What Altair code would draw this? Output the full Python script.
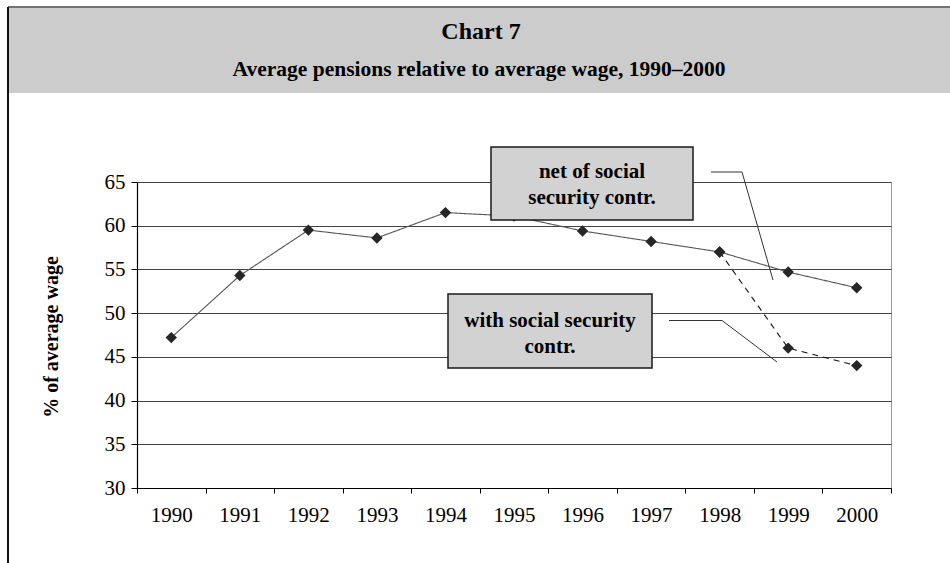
import altair as alt
import pandas as pd

# Average pension as % of average wage
years = [str(y) for y in range(1990, 2001)]
net_contr = [47.2, 54.3, 59.5, 58.6, 61.5, 61.1, 59.4, 58.2, 57.0, 54.7, 52.9]
with_years = ["1998", "1999", "2000"]
with_contr = [57.0, 46.0, 44.0]

series_names = ["net of social security contr.", "with social security contr."]
y_ticks = [30, 35, 40, 45, 50, 55, 60, 65]

rows = [{"year": y, "value": v, "series": series_names[0]} for y, v in zip(years, net_contr)]
rows += [{"year": y, "value": v, "series": series_names[1]} for y, v in zip(with_years, with_contr)]
df = pd.DataFrame(rows)

W, H = 754, 306
SERIF = "Liberation Serif"

x_enc = alt.X(
    "year:O",
    sort=years,
    scale=alt.Scale(type="band", domain=years, paddingInner=0, paddingOuter=0),
    axis=alt.Axis(title=None, labelAngle=0, tickBand="extent", grid=False,
                  tickSize=5, labelPadding=11),
)
y_enc = alt.Y(
    "value:Q",
    scale=alt.Scale(domain=[30, 65], nice=False, zero=False),
    axis=alt.Axis(title=None, values=y_ticks, grid=True, tickSize=6, labelPadding=6),
)

base = alt.Chart(df).encode(x=x_enc, y=y_enc)

lines = base.mark_line(strokeWidth=1.1).encode(
    color=alt.Color("series:N", scale=alt.Scale(domain=series_names, range=["#555555", "#111111"]), legend=None),
    strokeDash=alt.StrokeDash("series:N", scale=alt.Scale(domain=series_names, range=[[1, 0], [6, 5]]), legend=None),
)
points = base.mark_point(shape="diamond", filled=True, size=130, color="#262626", opacity=1)

one = alt.Data(values=[{}])


def seg(x1, y1, x2, y2, color="#333333", width=1.0):
    return alt.Chart(one).mark_rule(color=color, strokeWidth=width).encode(
        x=alt.value(x1), y=alt.value(y1), x2=alt.value(x2), y2=alt.value(y2)
    )


def box(x1, y1, x2, y2):
    return alt.Chart(one).mark_rect(fill="#d2d2d2", stroke="#1a1a1a", strokeWidth=1.5).encode(
        x=alt.value(x1), y=alt.value(y1), x2=alt.value(x2), y2=alt.value(y2)
    )


def label(txt, x, y, size=21, bold=True, angle=0):
    kw = dict(text=txt, font=SERIF, fontSize=size, align="center", baseline="middle", color="black")
    if bold:
        kw["fontWeight"] = "bold"
    if angle:
        kw["angle"] = angle
    return alt.Chart(one).mark_text(**kw).encode(x=alt.value(x), y=alt.value(y))


# header band and frame
header = alt.Chart(one).mark_rect(fill="#cccccc").encode(
    x=alt.value(-129), x2=alt.value(813), y=alt.value(-174), y2=alt.value(-89)
)
frame_top = seg(-129, -175, 813, -175, color="#444444", width=1.5)
frame_left = seg(-129, -175, -129, 381, color="#111111", width=2)
title1 = label("Chart 7", 344, -150, size=24)
title2 = label("Average pensions relative to average wage, 1990–2000", 342, -112, size=21.5)
y_title = label("% of average wage", -85, 155, size=20, angle=270)

# callouts
box_net = box(354, -35, 556, 38)
net_l1 = label("net of social", 455, -10)
net_l2 = label("security contr.", 455, 16)
lead_net = [seg(574, -10, 605, -10), seg(605, -10, 636, 98)]

box_with = box(311, 112, 515, 186)
with_l1 = label("with social security", 413, 139)
with_l2 = label("contr.", 413, 165)
lead_with = [seg(532, 138.5, 585, 138.5), seg(585, 138.5, 640, 180)]

chart = alt.layer(
    header, frame_top, frame_left, title1, title2, y_title,
    lines, points,
    box_net, net_l1, net_l2, *lead_net,
    box_with, with_l1, with_l2, *lead_with,
).properties(
    width=W,
    height=H,
    autosize=alt.AutoSizeParams(type="none"),
    padding={"left": 137, "top": 182, "right": 59, "bottom": 75},
).configure_view(
    stroke="#9a9a9a", strokeWidth=1
).configure_axis(
    labelFont=SERIF, labelFontSize=21, labelColor="black",
    domainColor="black", domainWidth=1.2, tickColor="black", tickWidth=1,
    gridColor="#444444", gridWidth=1,
)

chart.save("out.html", embed_options={"renderer": "svg", "actions": False})
